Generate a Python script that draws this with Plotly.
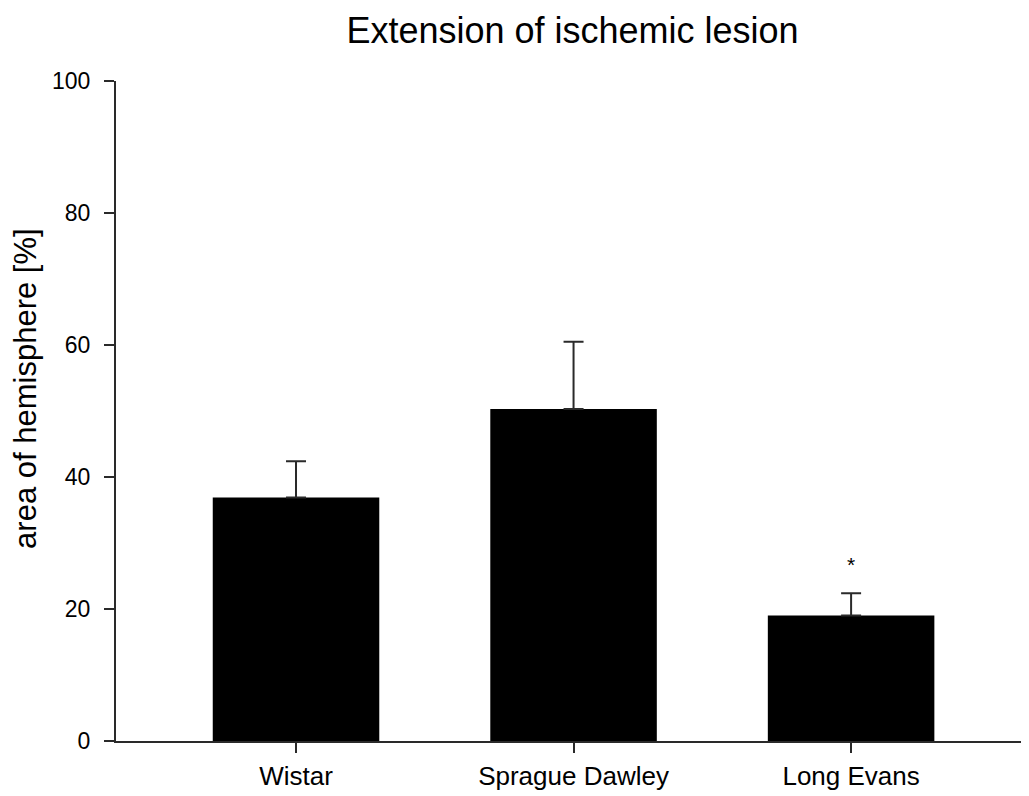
import plotly.graph_objects as go

categories = ["Wistar", "Sprague Dawley", "Long Evans"]
values = [36.9, 50.3, 19.0]
errors = [5.5, 10.2, 3.4]
y_ticks = [0, 20, 40, 60, 80, 100]
title_text = "Extension of ischemic lesion"
y_label = "area of hemisphere [%]"
marker_text = "*"
marker_index = 2
marker_y = 27

FONT = "Arial, Liberation Sans, Helvetica, sans-serif"
AXC = "#2a2a2a"

fig = go.Figure()
fig.add_trace(go.Bar(
    x=categories, y=values, width=0.6,
    marker=dict(color="black", line=dict(width=0)),
    error_y=dict(type="data", symmetric=False, array=errors,
                 arrayminus=[0] * len(errors),
                 color=AXC, thickness=2, width=10),
))

fig.add_annotation(x=categories[marker_index], y=marker_y - 0.3, text=marker_text,
                   showarrow=False, font=dict(family=FONT, size=21, color="black"),
                   xref="x", yref="y")
fig.add_annotation(x=-0.0986, y=0.535, xref="paper", yref="paper",
                   xanchor="center", yanchor="middle",
                   text=y_label, textangle=-90, showarrow=False,
                   font=dict(family=FONT, size=31, color="black"))

fig.update_layout(
    width=1021, height=788,
    margin=dict(l=108, r=0, t=73, b=55),
    paper_bgcolor="white", plot_bgcolor="white",
    showlegend=False,
    title=dict(text=title_text, x=0.5, xref="paper", xanchor="center",
               y=1 - 22 / 788, yref="container", yanchor="middle",
               font=dict(family=FONT, size=36, color="black")),
    xaxis=dict(range=[-0.6486, 2.641], showline=True, linecolor=AXC, linewidth=2,
               ticks="outside", ticklen=10, tickwidth=2, tickcolor=AXC,
               showgrid=False, zeroline=False,
               tickfont=dict(family=FONT, size=26, color="black"),
               ticklabelstandoff=1),
    yaxis=dict(range=[0, 100], tickvals=y_ticks, showline=True, linecolor=AXC,
               linewidth=2, ticks="outside", ticklen=10, tickwidth=2, tickcolor=AXC,
               showgrid=False, zeroline=False,
               tickfont=dict(family=FONT, size=23, color="black"),
               ticklabelstandoff=9),
)

fig.write_html("out.html")
